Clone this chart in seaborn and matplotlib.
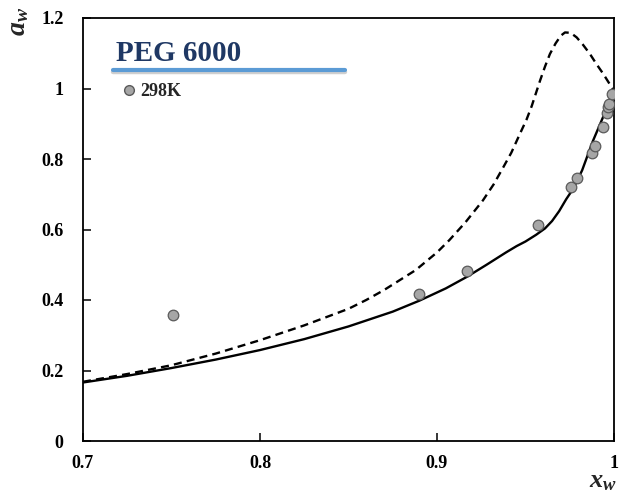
import matplotlib
matplotlib.use("Agg")
import matplotlib.pyplot as plt
import seaborn as sns
import pandas as pd
from matplotlib.lines import Line2D

# ---- data ----
exp_x = [0.751, 0.890, 0.917, 0.957, 0.9755, 0.979, 0.9877, 0.9894, 0.9936, 0.9958, 0.9964, 0.9972, 0.9987]
exp_y = [0.358, 0.417, 0.482, 0.612, 0.720, 0.746, 0.817, 0.836, 0.892, 0.931, 0.947, 0.956, 0.985]

solid_x = [0.70, 0.725, 0.75, 0.775, 0.80, 0.825, 0.85, 0.875, 0.89, 0.905, 0.917, 0.928,
           0.939, 0.945, 0.950, 0.956, 0.961, 0.965, 0.969, 0.973, 0.977, 0.982, 0.988, 0.994, 1.0]
solid_y = [0.166, 0.185, 0.207, 0.231, 0.258, 0.289, 0.325, 0.367, 0.398, 0.433, 0.466, 0.500,
           0.535, 0.553, 0.566, 0.585, 0.603, 0.624, 0.652, 0.686, 0.716, 0.768, 0.850, 0.921, 0.996]

dash_x = [0.70, 0.725, 0.75, 0.775, 0.80, 0.825, 0.85, 0.86, 0.87, 0.888, 0.90, 0.907, 0.916, 0.926,
          0.932, 0.9375, 0.942, 0.9469, 0.9506, 0.9535, 0.9582, 0.961, 0.9638, 0.967, 0.970,
          0.9723, 0.9755, 0.9789, 0.9825, 0.9864, 0.990, 0.994, 0.997, 1.0]
dash_y = [0.168, 0.190, 0.215, 0.248, 0.286, 0.328, 0.375, 0.400, 0.428, 0.485, 0.535, 0.570, 0.620, 0.683,
          0.728, 0.777, 0.818, 0.872, 0.912, 0.950, 1.022, 1.062, 1.098, 1.128, 1.150,
          1.159, 1.158, 1.145, 1.124, 1.098, 1.070, 1.041, 1.017, 0.994]

x_ticks = [0.7, 0.8, 0.9, 1.0]
x_labels = ["0.7", "0.8", "0.9", "1"]
y_ticks = [0, 0.2, 0.4, 0.6, 0.8, 1.0, 1.2]
y_labels = ["0", "0.2", "0.4", "0.6", "0.8", "1", "1.2"]

title_text = "PEG 6000"
legend_label = "298K"

# ---- style ----
sns.set_style("ticks")
plt.rcParams["font.family"] = ["Liberation Serif", "DejaVu Serif"]
plt.rcParams["mathtext.fontset"] = "custom"
plt.rcParams["mathtext.rm"] = "Liberation Serif"
plt.rcParams["mathtext.it"] = "Liberation Serif:italic"
plt.rcParams["mathtext.bf"] = "Liberation Serif:bold"
plt.rcParams["mathtext.bfit"] = "Liberation Serif:italic:bold"

fig = plt.figure(figsize=(6.19, 4.92), dpi=100)
ax = fig.add_axes([83/619, 51/492, 531/619, 423/492])

df_s = pd.DataFrame({"x": solid_x, "y": solid_y})
df_d = pd.DataFrame({"x": dash_x, "y": dash_y})
df_e = pd.DataFrame({"x": exp_x, "y": exp_y})

sns.lineplot(data=df_d, x="x", y="y", ax=ax, color="black", lw=1.7,
             estimator=None, sort=False)
ax.lines[-1].set_dashes((3.4, 2.2))
sns.lineplot(data=df_s, x="x", y="y", ax=ax, color="black", lw=1.7,
             estimator=None, sort=False)
sns.scatterplot(data=df_e, x="x", y="y", ax=ax, color="#A6A6A6", edgecolor="#5A5A5A",
                linewidth=0.9, s=58, zorder=5)

ax.set_xlim(0.7, 1.0)
ax.set_ylim(0, 1.2)
ax.set_xticks(x_ticks)
ax.set_xticklabels(x_labels)
ax.set_yticks(y_ticks)
ax.set_yticklabels(y_labels)
ax.set_xlabel("")
ax.set_ylabel("")
for s in ax.spines.values():
    s.set_visible(True)
    s.set_linewidth(1.3)
    s.set_color("black")
ax.tick_params(direction="in", length=6, width=1.1, colors="black",
               labelsize=13)
ax.tick_params(axis="x", pad=10)
ax.tick_params(axis="y", pad=14)
for lab in ax.get_xticklabels() + ax.get_yticklabels():
    lab.set_fontweight("bold")

# axis labels
fig.text(19/619, 1 - 21/492, r"$\mathbfit{a}_{\mathbfit{w}}$", rotation=90,
         fontsize=20, ha="center", va="center")
fig.text(603/619, 1 - 482/492, r"$\mathbfit{x}_{\mathbfit{w}}$",
         fontsize=19, ha="center", va="center")

# title with underline
ax.text((116-83)/531, (441.4-54)/423.4, title_text, transform=ax.transAxes,
        fontsize=21, fontweight="bold", color="#1F3864", ha="left", va="center")
ax.add_line(Line2D([(113-83)/531, (345-83)/531], [(441.4-72)/423.4]*2,
                   transform=ax.transAxes, color="#B0B0B0", lw=3.2, alpha=0.6))
ax.add_line(Line2D([(113-83)/531, (345-83)/531], [(441.4-70.5)/423.4]*2,
                   transform=ax.transAxes, color="#5B9BD5", lw=3.0))

# legend
h = Line2D([], [], marker="o", ls="none", markerfacecolor="#A6A6A6",
           markeredgecolor="#5A5A5A", markersize=7)
ax.legend([h], [legend_label], loc="center left",
          bbox_to_anchor=((124-83)/531, (441.4-92)/423.4), frameon=False,
          handlelength=0.6, handletextpad=0.3, borderpad=0, borderaxespad=0,
          prop={"weight": "bold", "size": 13})

fig.savefig("out.png", dpi=100)
